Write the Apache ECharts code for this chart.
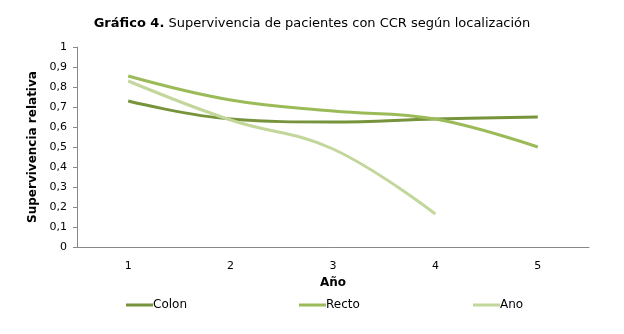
<!DOCTYPE html>
<html><head><meta charset="utf-8">
<script src="https://cdn.jsdelivr.net/npm/echarts@6/dist/echarts.min.js"></script>
<style>html,body{margin:0;padding:0;background:#fff}#c{width:624px;height:334px}</style>
</head><body><div id="c"></div>
<script>
var categories = ['1','2','3','4','5'];
var colon = [0.73, 0.64, 0.625, 0.64, 0.65];
var recto = [0.855, 0.735, 0.68, 0.64, 0.50];
var ano = [0.83, 0.635, 0.49, 0.165, null];
var yTicks = [0,0.1,0.2,0.3,0.4,0.5,0.6,0.7,0.8,0.9,1];

var font = 'Verdana, "DejaVu Sans", sans-serif';
var chart = echarts.init(document.getElementById('c'));
function mkLegend(name, left){
  return {data:[name], left:left, top:294, itemWidth:27, itemHeight:3, itemGap:0,
    icon:'rect', textStyle:{fontFamily:font, fontSize:12, color:'#000', padding:[0,0,0,-5]}};
}
chart.setOption({
  animation:false,
  title:{text:'{b|Gráfico 4.} Supervivencia de pacientes con CCR según localización', left:'center', top:12,
    textStyle:{fontFamily:font, fontSize:13, fontWeight:'normal', color:'#000',
      rich:{b:{fontFamily:font, fontSize:13, fontWeight:'bold', color:'#000'}}}},
  legend:[mkLegend('Colon',121), mkLegend('Recto',294), mkLegend('Ano',468)],
  grid:{left:77, right:35, top:47, bottom:87},
  xAxis:{type:'category', data:categories, boundaryGap:true,
    name:'Año', nameLocation:'middle', nameGap:29,
    nameTextStyle:{fontFamily:font, fontSize:12, fontWeight:'bold', color:'#000'},
    axisLine:{lineStyle:{color:'#888', width:1}}, axisTick:{show:false},
    axisLabel:{fontFamily:font, fontSize:11, color:'#000', margin:14}},
  yAxis:{type:'value', min:0, max:1, interval:0.1,
    name:'Supervivencia relativa', nameLocation:'middle', nameGap:37,
    nameTextStyle:{fontFamily:font, fontSize:12, fontWeight:'bold', color:'#000'},
    axisLine:{show:true, lineStyle:{color:'#888', width:1}},
    axisTick:{show:true, length:4, lineStyle:{color:'#888'}},
    splitLine:{show:false},
    axisLabel:{fontFamily:font, fontSize:11, color:'#000', margin:10,
      formatter:function(v){return String(Math.round(v*10)/10).replace('.',',');}}},
  series:[
    {name:'Colon', type:'line', data:colon, smooth:0.4, symbol:'none', lineStyle:{width:3, color:'#77933C'}, itemStyle:{color:'#77933C'}},
    {name:'Recto', type:'line', data:recto, smooth:0.4, symbol:'none', lineStyle:{width:3, color:'#9BBB59'}, itemStyle:{color:'#9BBB59'}},
    {name:'Ano', type:'line', data:ano, smooth:0.4, symbol:'none', lineStyle:{width:3, color:'#C3D69B'}, itemStyle:{color:'#C3D69B'}}
  ]
});
</script></body></html>
